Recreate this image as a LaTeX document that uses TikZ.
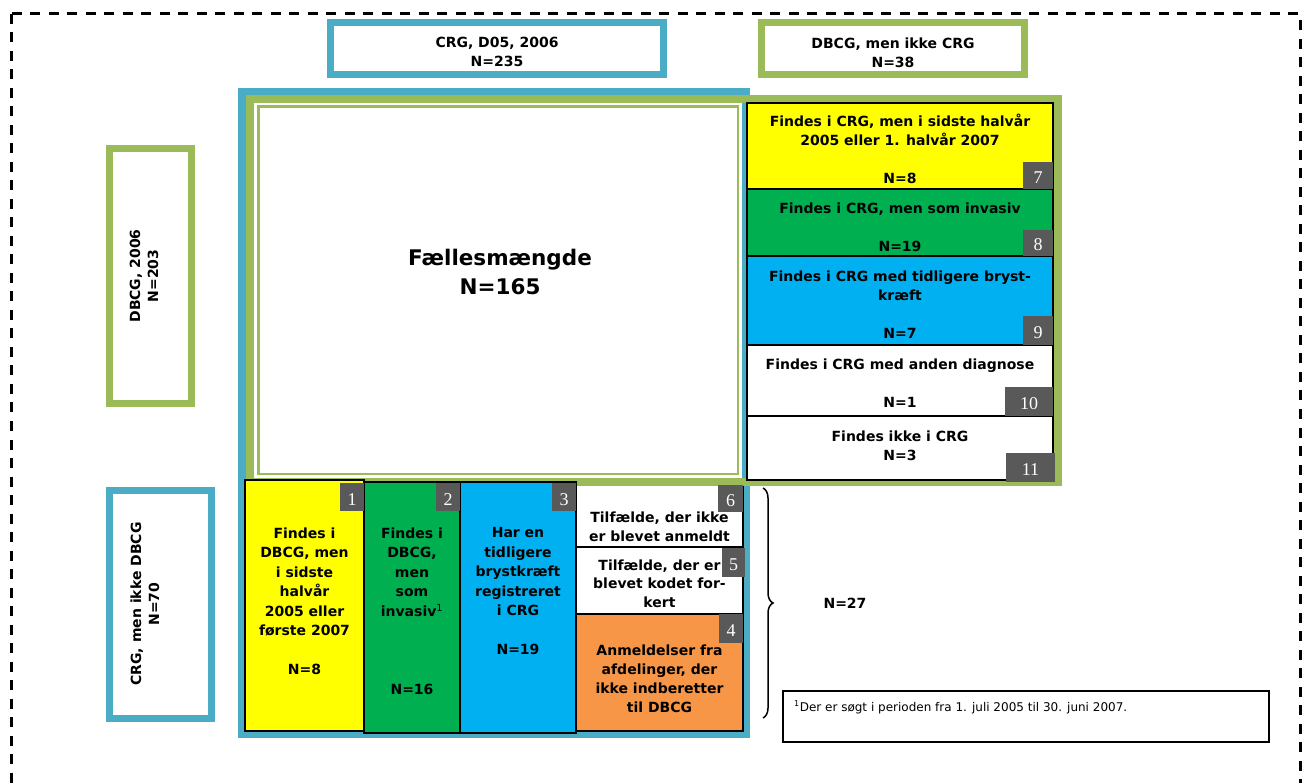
\documentclass[tikz,border=0pt]{standalone}
\usepackage{fontspec}
\setmainfont{DejaVu Sans}
\newfontfamily\tagfont{Liberation Serif}
\usetikzlibrary{decorations.pathreplacing}
\definecolor{frameblue}{HTML}{4BACC6}
\definecolor{framegreen}{HTML}{9BBB59}
\definecolor{cyel}{HTML}{FFFF00}
\definecolor{cgreen}{HTML}{00B050}
\definecolor{cblue}{HTML}{00B0F0}
\definecolor{corange}{HTML}{F79646}
\definecolor{tagcol}{HTML}{595959}
\begin{document}
\begin{tikzpicture}[x=1pt, y=-1pt,
  cbox/.style={draw=black, line width=2pt, anchor=north west, inner sep=0pt, outer sep=0pt},
  tagbox/.style={fill=tagcol, text=white, font=\tagfont\fontsize{18}{18}\selectfont, inner sep=0pt, outer sep=0pt, text height=16pt, text depth=0pt},
  lbl/.style={font=\bfseries\fontsize{14}{19}\selectfont, align=center, inner sep=0pt, anchor=north},
  lblb/.style={lbl, font=\bfseries\fontsize{14}{19.5}\selectfont},
  setbox/.style={line width=7pt, fill=white, inner sep=0pt, outer sep=0pt},
  frame/.style={line width=8pt},
]
\useasboundingbox (0,0) rectangle (1312,783);
\clip (0,0) rectangle (1312,783);
\fill[white] (0,0) rectangle (1312,783);
% outer dashed border
\draw[line width=3pt, dash pattern=on 10pt off 8.5pt] (11,14) rectangle (1300,830);

% set boxes
\node[setbox, draw=frameblue, minimum width=333pt, minimum height=52pt] (tcrg) at (497,48.5) {};
\node[lbl] (tcrgt) at ([yshift=-14.9pt]tcrg.north) {CRG, D05, 2006\\N=235};
\node[setbox, draw=framegreen, minimum width=263pt, minimum height=52pt] (tdbcg) at (893,48.5) {};
\node[lbl] (tdbcgt) at ([yshift=-14.9pt]tdbcg.north) {DBCG, men ikke CRG\\N=38};
\node[setbox, draw=framegreen, minimum width=82pt, minimum height=255pt] (ldbcg) at (150.5,276) {};
\node[rotate=90, font=\bfseries\fontsize{14}{18}\selectfont, align=center, inner sep=0pt] (ldbcgt) at (144,276) {DBCG, 2006\\N=203};
\node[setbox, draw=frameblue, minimum width=102pt, minimum height=228pt] (lcrg) at (160.5,604.5) {};
\node[rotate=90, font=\bfseries\fontsize{14}{18}\selectfont, align=center, inner sep=0pt] (lcrgt) at (145,604) {CRG, men ikke DBCG\\N=70};

% CRG frame
\draw[frameblue, frame] (242,92) rectangle (746,734);

% lower right boxes (under green frame)
\node[cbox, fill=white, minimum width=167pt, minimum height=63pt] (b6) at (576,484) {};
\node[cbox, fill=white, minimum width=167pt, minimum height=67pt] (b5) at (576,547) {};
\node[cbox, fill=corange, minimum width=167pt, minimum height=117pt] (b4) at (576,614) {};

% DBCG frame
\draw[framegreen, frame] (250,99) rectangle (1058,482);
\draw[framegreen, line width=2.5pt] (258.5,106.5) rectangle (738,474);
\node[font=\bfseries\fontsize{21.5}{29}\selectfont, align=center, inner sep=0pt] (faelles) at (500,271.5) {Fællesmængde\\N=165};

% right column
\node[cbox, fill=cyel, minimum width=306pt, minimum height=86pt] (b7) at (747,103) {};
\node[cbox, fill=cgreen, minimum width=306pt, minimum height=67pt] (b8) at (747,189) {};
\node[cbox, fill=cblue, minimum width=306pt, minimum height=89pt] (b9) at (747,256) {};
\node[cbox, fill=white, minimum width=306pt, minimum height=71pt] (b10) at (747,345) {};
\node[cbox, fill=white, minimum width=306pt, minimum height=64pt] (b11) at (747,416) {};

% bottom row
\node[cbox, fill=cyel, minimum width=119pt, minimum height=251pt] (b1) at (245,480) {};
\node[cbox, fill=cgreen, minimum width=96pt, minimum height=251pt] (b2) at (364,482) {};
\node[cbox, fill=cblue, minimum width=116pt, minimum height=251pt] (b3) at (460,482) {};

% labels
\node[lbl] (l7) at ([yshift=-10.4pt]b7.north) {Findes i CRG, men i sidste halvår\\2005 eller 1. halvår 2007\\[19pt]N=8};
\node[lbl] (l8) at ([yshift=-13.4pt]b8.north) {Findes i CRG, men som invasiv\\[19pt]N=19};
\node[lbl] (l9) at ([yshift=-14.4pt]b9.north) {Findes i CRG med tidligere bryst-\\kræft\\[19pt]N=7};
\node[lbl] (l10) at ([yshift=-13.4pt]b10.north) {Findes i CRG med anden diagnose\\[19pt]N=1};
\node[lbl] (l11) at ([yshift=-14.4pt]b11.north) {Findes ikke i CRG\\N=3};
\node[lblb] (l1) at ([yshift=-47.4pt]b1.north) {Findes i\\DBCG, men\\i sidste\\halvår\\2005 eller\\første 2007\\[19.5pt]N=8};
\node[lblb] (l2) at ([yshift=-45.4pt]b2.north) {Findes i\\DBCG,\\men\\som\\invasiv\textsuperscript{\mdseries 1}\\[58.5pt]N=16};
\node[lblb] (l3) at ([yshift=-45.4pt]b3.north) {Har en\\tidligere\\brystkræft\\registreret\\i CRG\\[19.5pt]N=19};
\node[lbl] (l6) at ([yshift=-27.4pt]b6.north) {Tilfælde, der ikke\\er blevet anmeldt};
\node[lbl, font=\bfseries\fontsize{14}{18.5}\selectfont] (l5) at ([yshift=-12.4pt]b5.north) {Tilfælde, der er\\blevet kodet for-\\kert};
\node[lbl] (l4) at ([yshift=-30.4pt]b4.north) {Anmeldelser fra\\afdelinger, der\\ikke indberetter\\til DBCG};

% tags
\node[tagbox, minimum width=30pt, minimum height=27pt, anchor=south east] (t7) at (b7.south east) {7};
\node[tagbox, minimum width=30pt, minimum height=26pt, anchor=south east] (t8) at (b8.south east) {8};
\node[tagbox, minimum width=30pt, minimum height=29pt, anchor=south east] (t9) at (b9.south east) {9};
\node[tagbox, minimum width=48pt, minimum height=29pt, anchor=south east] (t10) at (b10.south east) {10};
\node[tagbox, minimum width=49pt, minimum height=29pt, anchor=south east] (t11) at ([xshift=2pt, yshift=-2pt]b11.south east) {11};
\node[tagbox, minimum width=24pt, minimum height=28pt, anchor=north east] (t1) at ([yshift=-3pt]b1.north east) {1};
\node[tagbox, minimum width=24pt, minimum height=28pt, anchor=north east] (t2) at ([yshift=-1pt]b2.north east) {2};
\node[tagbox, minimum width=24pt, minimum height=28pt, anchor=north east] (t3) at ([yshift=-1pt]b3.north east) {3};
\node[tagbox, minimum width=25pt, minimum height=27pt, anchor=north east] (t6) at ([yshift=-1pt]b6.north east) {6};
\node[tagbox, minimum width=23pt, minimum height=29pt, anchor=north east] (t5) at ([xshift=2pt, yshift=-1pt]b5.north east) {5};
\node[tagbox, minimum width=24pt, minimum height=29pt, anchor=north east] (t4) at (b4.north east) {4};

% brace and total
\coordinate (bt) at (763,488);
\coordinate (bb) at (763,718);
\draw[line width=1.5pt, decorate, decoration={brace, amplitude=10pt}] (bt) -- (bb);
\node[font=\bfseries\fontsize{14}{19}\selectfont, anchor=base, inner sep=0pt] (n27) at (845,608) {N=27};

% footnote
\node[draw=black, line width=1.5pt, fill=white, minimum width=486pt, minimum height=51pt, anchor=north west, inner sep=0pt] (fn) at (782,690) {};
\node[anchor=base west, font=\fontsize{12}{14}\selectfont, inner sep=0pt] (fnt) at (794,711) {\textsuperscript{1}Der er søgt i perioden fra 1. juli 2005 til 30. juni 2007.};
\end{tikzpicture}
\end{document}
